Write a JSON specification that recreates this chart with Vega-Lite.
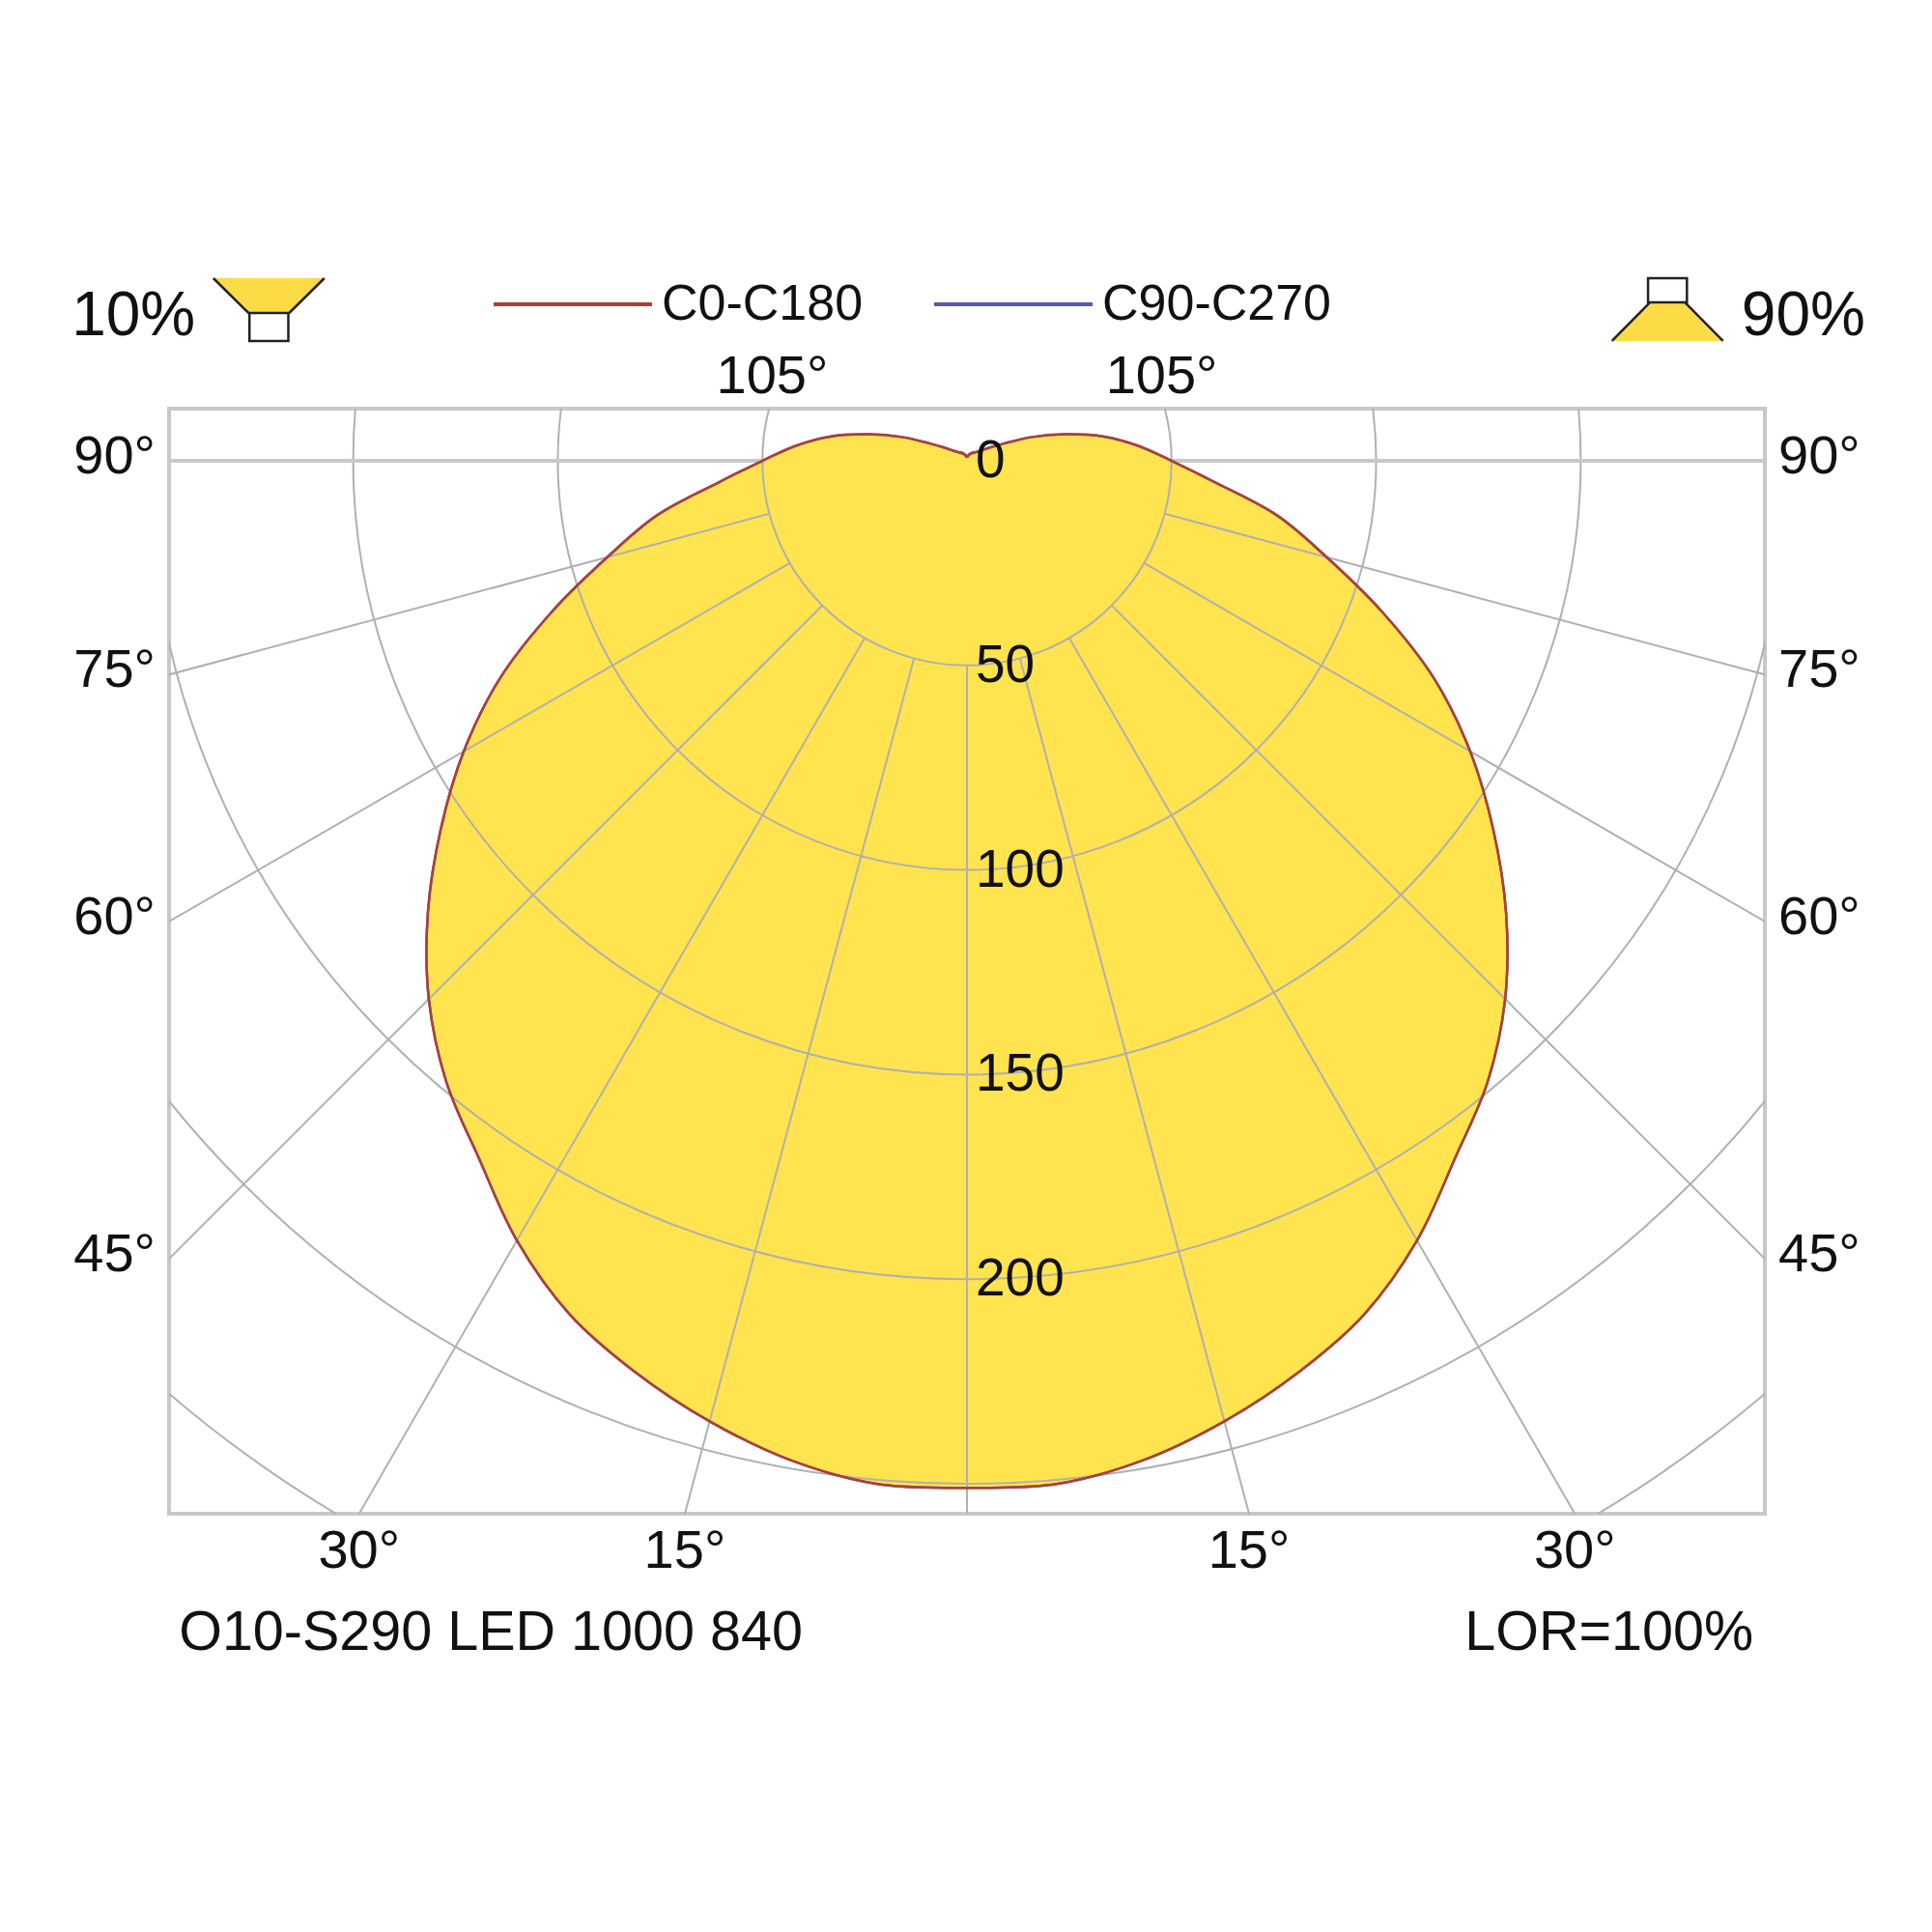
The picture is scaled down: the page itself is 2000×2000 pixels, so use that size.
{
  "$schema": "https://vega.github.io/schema/vega-lite/v6.json",
  "description": "Polar luminous intensity diagram (cd/klm), O10-S290 LED 1000 840",
  "width": 1652,
  "height": 1144,
  "autosize": {"type": "none"},
  "padding": {"left": 175, "top": 423, "right": 173, "bottom": 433},
  "background": "#ffffff",
  "config": {
    "view": {"stroke": "#c8c8c8", "strokeWidth": 4},
    "text": {"font": "Liberation Sans", "fontSize": 56, "color": "#111111"}
  },
  "datasets": {
    "lid": [
      {"gamma": 0, "C0": 251, "C90": 251, "C180": 251, "C270": 251},
      {"gamma": 5, "C0": 251, "C90": 251, "C180": 251, "C270": 251},
      {"gamma": 10, "C0": 248, "C90": 248, "C180": 248, "C270": 248},
      {"gamma": 15, "C0": 243, "C90": 243, "C180": 243, "C270": 243},
      {"gamma": 20, "C0": 237, "C90": 237, "C180": 237, "C270": 237},
      {"gamma": 25, "C0": 230, "C90": 230, "C180": 230, "C270": 230},
      {"gamma": 30, "C0": 220, "C90": 220, "C180": 220, "C270": 220},
      {"gamma": 35, "C0": 208, "C90": 208, "C180": 208, "C270": 208},
      {"gamma": 40, "C0": 198, "C90": 198, "C180": 198, "C270": 198},
      {"gamma": 45, "C0": 186, "C90": 186, "C180": 186, "C270": 186},
      {"gamma": 50, "C0": 172, "C90": 172, "C180": 172, "C270": 172},
      {"gamma": 55, "C0": 157, "C90": 157, "C180": 157, "C270": 157},
      {"gamma": 60, "C0": 142, "C90": 142, "C180": 142, "C270": 142},
      {"gamma": 65, "C0": 126, "C90": 126, "C180": 126, "C270": 126},
      {"gamma": 70, "C0": 108, "C90": 108, "C180": 108, "C270": 108},
      {"gamma": 75, "C0": 91, "C90": 91, "C180": 91, "C270": 91},
      {"gamma": 80, "C0": 77, "C90": 77, "C180": 77, "C270": 77},
      {"gamma": 85, "C0": 61, "C90": 61, "C180": 61, "C270": 61},
      {"gamma": 90, "C0": 50, "C90": 50, "C180": 50, "C270": 50},
      {"gamma": 95, "C0": 42, "C90": 42, "C180": 42, "C270": 42},
      {"gamma": 100, "C0": 34, "C90": 34, "C180": 34, "C270": 34},
      {"gamma": 105, "C0": 25, "C90": 25, "C180": 25, "C270": 25},
      {"gamma": 110, "C0": 17, "C90": 17, "C180": 17, "C270": 17},
      {"gamma": 115, "C0": 10, "C90": 10, "C180": 10, "C270": 10},
      {"gamma": 120, "C0": 6.5, "C90": 6.5, "C180": 6.5, "C270": 6.5},
      {"gamma": 125, "C0": 4.5, "C90": 4.5, "C180": 4.5, "C270": 4.5},
      {"gamma": 130, "C0": 3.5, "C90": 3.5, "C180": 3.5, "C270": 3.5},
      {"gamma": 135, "C0": 3, "C90": 3, "C180": 3, "C270": 3},
      {"gamma": 140, "C0": 2.5, "C90": 2.5, "C180": 2.5, "C270": 2.5},
      {"gamma": 145, "C0": 2.5, "C90": 2.5, "C180": 2.5, "C270": 2.5},
      {"gamma": 150, "C0": 2, "C90": 2, "C180": 2, "C270": 2},
      {"gamma": 155, "C0": 2, "C90": 2, "C180": 2, "C270": 2},
      {"gamma": 160, "C0": 1.5, "C90": 1.5, "C180": 1.5, "C270": 1.5},
      {"gamma": 165, "C0": 1.5, "C90": 1.5, "C180": 1.5, "C270": 1.5},
      {"gamma": 170, "C0": 1, "C90": 1, "C180": 1, "C270": 1},
      {"gamma": 175, "C0": 1, "C90": 1, "C180": 1, "C270": 1},
      {"gamma": 180, "C0": 1, "C90": 1, "C180": 1, "C270": 1}
    ],
    "rings": [{"cd": 50}, {"cd": 100}, {"cd": 150}, {"cd": 200}, {"cd": 250}, {"cd": 300}],
    "spokes": [
      {"angle": -105}, {"angle": -90}, {"angle": -75}, {"angle": -60}, {"angle": -45},
      {"angle": -30}, {"angle": -15}, {"angle": 0}, {"angle": 15}, {"angle": 30},
      {"angle": 45}, {"angle": 60}, {"angle": 75}, {"angle": 90}, {"angle": 105}
    ]
  },
  "encoding": {
    "x": {"field": "x", "type": "quantitative", "scale": {"domain": [-195, 195], "nice": false, "zero": false}, "axis": null},
    "y": {"field": "y", "type": "quantitative", "scale": {"domain": [-257.3, 12.75], "nice": false, "zero": false}, "axis": null}
  },
  "layer": [
    {
      "data": {"name": "lid"},
      "transform": [
        {"fold": ["C0", "C180"], "as": ["plane", "I"]},
        {"calculate": "datum.plane == 'C180' ? -datum.gamma : datum.gamma", "as": "g"},
        {"calculate": "datum.I * sin(datum.g * PI / 180)", "as": "x"},
        {"calculate": "-datum.I * cos(datum.g * PI / 180)", "as": "y"}
      ],
      "mark": {"type": "line", "interpolate": "catmull-rom", "fill": "#ffe34f", "stroke": "transparent", "strokeWidth": 0},
      "encoding": {"order": {"field": "g", "type": "quantitative"}}
    },
    {
      "data": {"name": "rings"},
      "transform": [
        {"calculate": "0", "as": "x"},
        {"calculate": "0", "as": "y"}
      ],
      "mark": {"type": "point", "shape": "circle", "filled": false, "color": "#b0b0b0", "strokeWidth": 2, "opacity": 1, "clip": true},
      "encoding": {
        "size": {"field": "cd", "type": "quantitative", "scale": {"type": "pow", "exponent": 2, "domain": [0, 300], "range": [0, 6459320]}, "legend": null}
      }
    },
    {
      "data": {"name": "spokes"},
      "transform": [
        {"filter": "abs(datum.angle) != 90"},
        {"calculate": "50 * sin(datum.angle * PI / 180)", "as": "x"},
        {"calculate": "-50 * cos(datum.angle * PI / 180)", "as": "y"},
        {"calculate": "400 * sin(datum.angle * PI / 180)", "as": "x2"},
        {"calculate": "-400 * cos(datum.angle * PI / 180)", "as": "y2"}
      ],
      "mark": {"type": "rule", "color": "#b0b0b0", "strokeWidth": 2, "clip": true},
      "encoding": {"x2": {"field": "x2"}, "y2": {"field": "y2"}}
    },
    {
      "data": {"name": "spokes"},
      "transform": [
        {"filter": "abs(datum.angle) == 90"},
        {"calculate": "50 * sin(datum.angle * PI / 180)", "as": "x"},
        {"calculate": "0", "as": "y"},
        {"calculate": "400 * sin(datum.angle * PI / 180)", "as": "x2"}
      ],
      "mark": {"type": "rule", "color": "#c8c8c8", "strokeWidth": 4, "clip": true},
      "encoding": {"x2": {"field": "x2"}}
    },
    {
      "data": {"name": "lid"},
      "transform": [
        {"fold": ["C90", "C270"], "as": ["cplane", "I"]},
        {"calculate": "'C90-C270'", "as": "plane"},
        {"calculate": "datum.cplane == 'C270' ? -datum.gamma : datum.gamma", "as": "g"},
        {"calculate": "datum.I * sin(datum.g * PI / 180)", "as": "x"},
        {"calculate": "-datum.I * cos(datum.g * PI / 180)", "as": "y"}
      ],
      "mark": {"type": "line", "interpolate": "catmull-rom", "strokeWidth": 2.5},
      "encoding": {
        "order": {"field": "g", "type": "quantitative"},
        "color": {
          "field": "plane", "type": "nominal",
          "scale": {"domain": ["C0-C180", "C90-C270"], "range": ["#ad3f36", "#5a5aaa"]},
          "legend": {
            "orient": "none", "legendX": 334, "legendY": -192, "direction": "horizontal", "title": null,
            "symbolType": "stroke", "symbolSize": 26896, "symbolStrokeWidth": 4,
            "labelFont": "Liberation Sans", "labelFontSize": 52, "labelColor": "#111111", "labelLimit": 0,
            "labelOffset": 8, "columnPadding": 65, "padding": 0
          }
        }
      }
    },
    {
      "data": {"name": "lid"},
      "transform": [
        {"fold": ["C0", "C180"], "as": ["cplane", "I"]},
        {"calculate": "'C0-C180'", "as": "plane"},
        {"calculate": "datum.cplane == 'C180' ? -datum.gamma : datum.gamma", "as": "g"},
        {"calculate": "datum.I * sin(datum.g * PI / 180)", "as": "x"},
        {"calculate": "-datum.I * cos(datum.g * PI / 180)", "as": "y"}
      ],
      "mark": {"type": "line", "interpolate": "catmull-rom", "strokeWidth": 2.5},
      "encoding": {
        "order": {"field": "g", "type": "quantitative"},
        "color": {
          "field": "plane", "type": "nominal",
          "scale": {"domain": ["C0-C180", "C90-C270"], "range": ["#ad3f36", "#5a5aaa"]},
          "legend": {
            "orient": "none", "legendX": 334, "legendY": -192, "direction": "horizontal", "title": null,
            "symbolType": "stroke", "symbolSize": 26896, "symbolStrokeWidth": 4,
            "labelFont": "Liberation Sans", "labelFontSize": 52, "labelColor": "#111111", "labelLimit": 0,
            "labelOffset": 8, "columnPadding": 65, "padding": 0
          }
        }
      }
    },
    {
      "data": {"values": [{"cd": 0}, {"cd": 50}, {"cd": 100}, {"cd": 150}, {"cd": 200}]},
      "transform": [
        {"calculate": "0", "as": "x"},
        {"calculate": "-datum.cd", "as": "y"}
      ],
      "mark": {"type": "text", "align": "left", "baseline": "middle", "dx": 9, "fontSize": 55},
      "encoding": {"text": {"field": "cd", "type": "nominal"}}
    },
    {
      "data": {"values": [{"a": -90}, {"a": -75}, {"a": -60}, {"a": -45}, {"a": 45}, {"a": 60}, {"a": 75}, {"a": 90}]},
      "transform": [
        {"calculate": "datum.a < 0 ? -195 : 195", "as": "x"},
        {"calculate": "-195 * cos(datum.a * PI / 180) / abs(sin(datum.a * PI / 180))", "as": "y"},
        {"calculate": "abs(datum.a) + '°'", "as": "label"},
        {"calculate": "datum.a < 0 ? 'left' : 'right'", "as": "side"}
      ],
      "layer": [
        {
          "transform": [{"filter": "datum.side == 'left'"}],
          "mark": {"type": "text", "align": "right", "baseline": "middle", "dx": -14, "dy": -4},
          "encoding": {"text": {"field": "label", "type": "nominal"}}
        },
        {
          "transform": [{"filter": "datum.side == 'right'"}],
          "mark": {"type": "text", "align": "left", "baseline": "middle", "dx": 14, "dy": -4},
          "encoding": {"text": {"field": "label", "type": "nominal"}}
        }
      ]
    },
    {
      "data": {"values": [{"a": -30}, {"a": -15}, {"a": 15}, {"a": 30}]},
      "transform": [
        {"calculate": "257.3 * tan(datum.a * PI / 180)", "as": "x"},
        {"calculate": "-257.3", "as": "y"},
        {"calculate": "abs(datum.a) + '°'", "as": "label"}
      ],
      "mark": {"type": "text", "align": "center", "baseline": "alphabetic", "dy": 56},
      "encoding": {"text": {"field": "label", "type": "nominal"}}
    },
    {
      "data": {"values": [{"a": -105}, {"a": 105}]},
      "transform": [
        {"calculate": "-12.75 * tan(datum.a * PI / 180)", "as": "x"},
        {"calculate": "12.75", "as": "y"},
        {"calculate": "abs(datum.a) + '°'", "as": "label"}
      ],
      "mark": {"type": "text", "align": "center", "baseline": "alphabetic", "dy": -16},
      "encoding": {"text": {"field": "label", "type": "nominal"}}
    },
    {
      "data": {"values": [{"label": "10%"}]},
      "transform": [
        {"calculate": "-218.8", "as": "x"},
        {"calculate": "30.6", "as": "y"}
      ],
      "mark": {"type": "text", "align": "left", "baseline": "alphabetic", "fontSize": 64},
      "encoding": {"text": {"field": "label", "type": "nominal"}}
    },
    {
      "data": {"values": [{"label": "90%"}]},
      "transform": [
        {"calculate": "189.3", "as": "x"},
        {"calculate": "30.6", "as": "y"}
      ],
      "mark": {"type": "text", "align": "left", "baseline": "alphabetic", "fontSize": 64},
      "encoding": {"text": {"field": "label", "type": "nominal"}}
    },
    {
      "data": {"values": [{"label": "O10-S290 LED 1000 840"}]},
      "transform": [
        {"calculate": "-192.6", "as": "x"},
        {"calculate": "-290.6", "as": "y"}
      ],
      "mark": {"type": "text", "align": "left", "baseline": "alphabetic", "fontSize": 57.5},
      "encoding": {"text": {"field": "label", "type": "nominal"}}
    },
    {
      "data": {"values": [{"label": "LOR=100%"}]},
      "transform": [
        {"calculate": "192.2", "as": "x"},
        {"calculate": "-290.6", "as": "y"}
      ],
      "mark": {"type": "text", "align": "right", "baseline": "alphabetic", "fontSize": 57.5},
      "encoding": {"text": {"field": "label", "type": "nominal"}}
    },
    {
      "data": {"values": [{"icon": "10% up"}]},
      "transform": [
        {"calculate": "-170.6", "as": "x"},
        {"calculate": "36.95", "as": "y"}
      ],
      "layer": [
        {"mark": {"type": "point", "shape": "M-1,-0.565L1,-0.565L0.365,0.061L-0.365,0.061Z", "size": 13225, "filled": true, "fill": "#fbdc45", "strokeWidth": 0, "opacity": 1}},
        {"mark": {"type": "point", "shape": "M-1,-0.565L-0.365,0.061M1,-0.565L0.365,0.061M-0.35,0.061L0.35,0.061L0.35,0.565L-0.35,0.565Z", "size": 13225, "filled": true, "fill": "#ffffff", "stroke": "#222222", "strokeWidth": 2.5, "opacity": 1}}
      ]
    },
    {
      "data": {"values": [{"icon": "90% down"}]},
      "transform": [
        {"calculate": "171.2", "as": "x"},
        {"calculate": "36.95", "as": "y"}
      ],
      "layer": [
        {"mark": {"type": "point", "shape": "M-0.316,-0.13L0.316,-0.13L1,0.565L-1,0.565Z", "size": 13225, "filled": true, "fill": "#fbdc45", "strokeWidth": 0, "opacity": 1}},
        {"mark": {"type": "point", "shape": "M-0.316,-0.13L-1,0.565M0.316,-0.13L1,0.565M-0.35,-0.565L0.35,-0.565L0.35,-0.13L-0.35,-0.13Z", "size": 13225, "filled": true, "fill": "#ffffff", "stroke": "#222222", "strokeWidth": 2.5, "opacity": 1}}
      ]
    }
  ]
}
